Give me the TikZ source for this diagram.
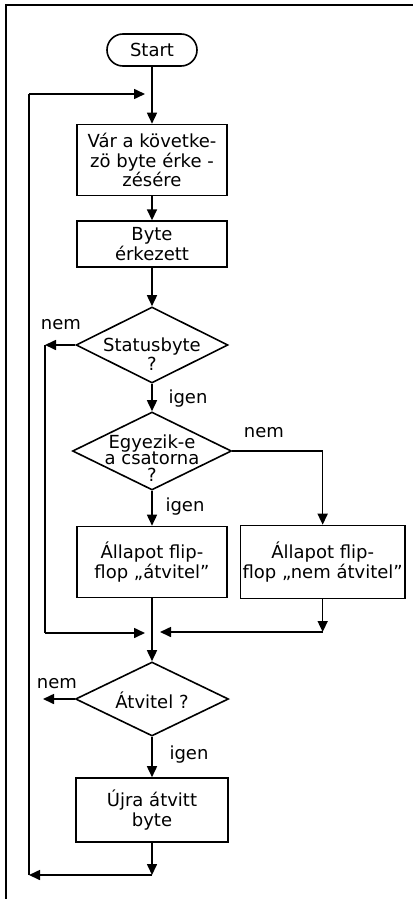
\documentclass[tikz,border=0pt]{standalone}
\usepackage{fontspec}
\setmainfont{DejaVu Sans}
\usepackage{tikz}
\usetikzlibrary{arrows.meta,positioning,shapes.geometric}
\begin{document}
\begin{tikzpicture}[
    x=1pt, y=-1pt,
    font=\fontsize{18}{19.5}\selectfont,
    line width=1.6pt,
    block/.style={draw, minimum width=150pt, minimum height=71pt, align=center,
                  inner sep=2pt},
    term/.style={draw, rounded corners=16pt, minimum width=90pt, minimum height=32pt},
    decision/.style={draw, diamond, inner sep=0pt, minimum width=152pt,
                     minimum height=76pt},
    txt/.style={align=center, inner sep=0pt},
    lbl/.style={inner sep=0pt},
    arrow/.style={-{Triangle[length=11pt,width=10pt]}}
]
\useasboundingbox (0,0) rectangle (413,899);
\draw[line width=1.2pt] (6,899) -- (6,5) -- (413,5);

\node[term] (start) at (152,50) {Start};
\node[block] (wait) at (152,160) {Vár a követke-\\zö byte érke -\\zésére};
\node[block, minimum height=46pt, below=24pt of wait] (arrived) {Byte\\érkezett};
\node[decision] (status) at (152,345) {};
\node[txt] (statustext) at (152,354) {Statusbyte\\?};
\node[decision, minimum width=159pt, minimum height=78pt] (channel) at (152,451) {};
\node[txt, font=\fontsize{18}{16.5}\selectfont] (channeltext) at (152,458)
    {Egyezik-e\\a csatorna\\?};
\node[block] (flipon) at (152,562) {Állapot flip-\\flop „átvitel”};
\node[block, minimum width=161pt, minimum height=73pt, right=12pt of flipon] (flipoff)
    {Állapot flip-\\flop „nem átvitel”};
\node[decision, minimum width=153pt, minimum height=74pt] (transfer) at (152,699) {};
\node[txt] (transfertext) at (152,700) {Átvitel ?};
\node[block, minimum width=152pt, minimum height=64pt] (resend) at (152,810)
    {Újra átvitt\\byte};

\node[lbl] (nem1) at (61,325) {nem};
\node[lbl] (igen1) at (188,399) {igen};
\node[lbl] (nem2) at (264,433) {nem};
\node[lbl] (igen2) at (185,507) {igen};
\node[lbl] (nem3) at (57,684) {nem};
\node[lbl] (igen3) at (189,755) {igen};

\coordinate (looptop) at (29,94);
\coordinate (loopin) at (145,94);
\coordinate (loopbot) at (29,875);
\coordinate (bottom) at (152,875);
\coordinate (skipl) at (45,345);
\coordinate (skiplow) at (45,633);
\coordinate (joinl) at (145,633);
\coordinate (joinr) at (160,632);
\coordinate (offdown) at (flipoff.south |- joinr);
\coordinate (nemexit) at (43,699);

\draw[arrow] (start) -- (wait);
\draw[arrow] (looptop) -- (loopin);
\draw[arrow] (wait) -- (arrived);
\draw[arrow] (arrived) -- (status);
\draw[arrow] (status.west) -- (skipl);
\draw (skipl) -- (skiplow);
\draw[arrow] (skiplow) -- (joinl);
\draw[arrow] (status) -- (channel);
\draw[arrow] (channel.east) -| (flipoff.north);
\draw[arrow] (channel) -- (flipon);
\draw[arrow] (flipoff.south) -- (offdown);
\draw[arrow] (offdown) -- (joinr);
\draw[arrow] (flipon) -- (transfer);
\draw[arrow] (transfer.west) -- (nemexit);
\draw[arrow] (transfer) -- (resend);
\draw[arrow] (resend) -- (bottom);
\draw[arrow] (bottom) -- (loopbot);
\draw (loopbot) -- (looptop);
\end{tikzpicture}
\end{document}
